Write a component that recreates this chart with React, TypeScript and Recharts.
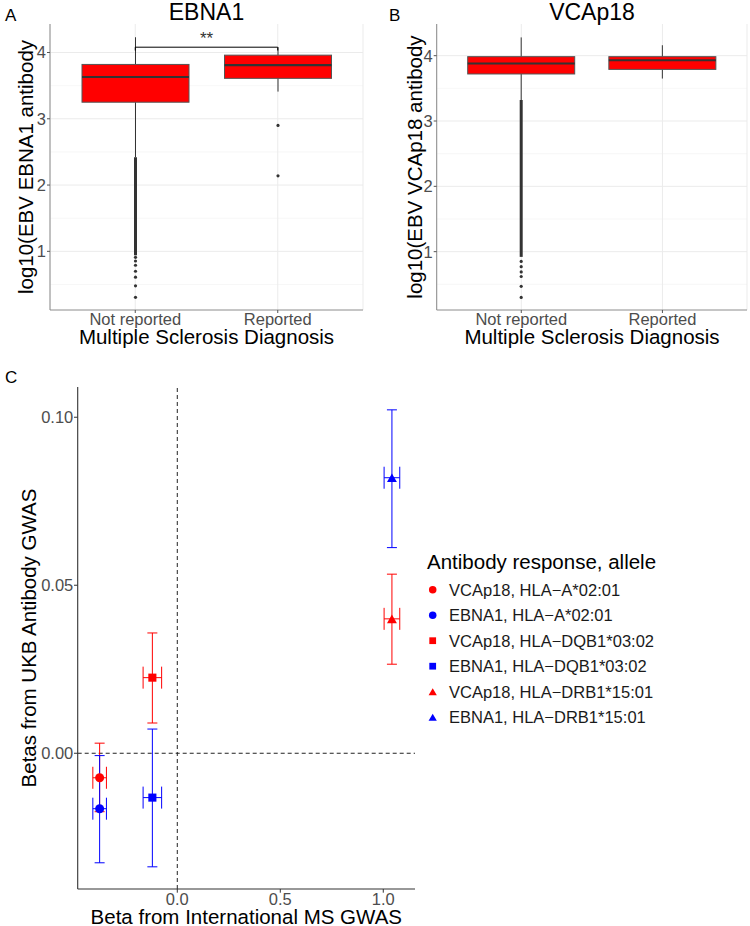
import React from 'react';
import {
  ComposedChart,
  ScatterChart,
  Scatter,
  Bar,
  XAxis,
  YAxis,
  CartesianGrid,
  ReferenceLine,
  ErrorBar,
  Legend,
} from 'recharts';

const FONT = '"Liberation Sans", Arial, Helvetica, sans-serif';
const BORDER = '#8c8c8c';
const TICK_COLOR = '#4D4D4D';

// ---------- Panels A & B: boxplots ----------
const categories = ['Not reported', 'Reported'];

// EBNA1
const ebnaLower = [2.42, 3.41];
const ebnaQ1 = [3.25, 3.61];
const ebnaMedian = [3.63, 3.81];
const ebnaQ3 = [3.82, 3.96];
const ebnaUpper = [4.23, 4.08];
const ebnaDenseLow = [0.94, null];
const ebnaDenseHigh = [2.42, null];
const ebnaOutliers = [
  [0.91, 0.854, 0.79, 0.7, 0.61, 0.48, 0.306],
  [2.9, 2.14],
];
const ebnaTicks = [1, 2, 3, 4];
const ebnaMinorTicks = [0.5, 1.5, 2.5, 3.5];
const ebnaDomain = [0.115, 4.43];
const ebnaBracket = 4.08;

// VCAp18
const vcaLower = [3.32, 3.65];
const vcaQ1 = [3.72, 3.79];
const vcaMedian = [3.88, 3.93];
const vcaQ3 = [3.985, 3.985];
const vcaUpper = [4.28, 4.16];
const vcaDenseLow = [0.92, null];
const vcaDenseHigh = [3.32, null];
const vcaOutliers = [[0.85, 0.77, 0.69, 0.62, 0.47, 0.3], []];
const vcaTicks = [1, 2, 3, 4];
const vcaMinorTicks = [0.5, 1.5, 2.5, 3.5];
const vcaDomain = [0.107, 4.485];

// ---------- Panel C: scatter with error bars ----------
const seriesNames = [
  'VCAp18, HLA\u2212A*02:01',
  'EBNA1, HLA\u2212A*02:01',
  'VCAp18, HLA\u2212DQB1*03:02',
  'EBNA1, HLA\u2212DQB1*03:02',
  'VCAp18, HLA\u2212DRB1*15:01',
  'EBNA1, HLA\u2212DRB1*15:01',
];
const seriesColors = ['#FF0000', '#0000FF', '#FF0000', '#0000FF', '#FF0000', '#0000FF'];
const seriesShapes = ['circle', 'circle', 'square', 'square', 'triangle', 'triangle'];
const msBeta = [-0.377, -0.377, -0.121, -0.121, 1.042, 1.042];
const msLow = [-0.41, -0.41, -0.166, -0.166, 1.004, 1.004];
const msHigh = [-0.344, -0.344, -0.076, -0.076, 1.08, 1.08];
const ukbBeta = [-0.0073, -0.0165, 0.0225, -0.0132, 0.04, 0.082];
const ukbLow = [-0.0174, -0.0326, 0.009, -0.0338, 0.0265, 0.0612];
const ukbHigh = [0.003, -0.0007, 0.0358, 0.0072, 0.0533, 0.1022];
const cXTicks = [0, 0.5, 1.0];
const cYTicks = [0, 0.05, 0.1];
const cXDomain = [-0.4835, 1.154];
const cYDomain = [-0.0404, 0.109];

const buildBoxRows = (
  lower: number[],
  q1: number[],
  median: number[],
  q3: number[],
  upper: number[],
  denseLow: (number | null)[],
  denseHigh: (number | null)[],
  outliers: number[][]
) =>
  categories.map((cat, i) => ({
    cat,
    lower: lower[i],
    q1: q1[i],
    median: median[i],
    q3: q3[i],
    upper: upper[i],
    denseLow: denseLow[i],
    denseHigh: denseHigh[i],
    outliers: outliers[i],
  }));

const ebnaRows = buildBoxRows(ebnaLower, ebnaQ1, ebnaMedian, ebnaQ3, ebnaUpper, ebnaDenseLow, ebnaDenseHigh, ebnaOutliers);
const vcaRows = buildBoxRows(vcaLower, vcaQ1, vcaMedian, vcaQ3, vcaUpper, vcaDenseLow, vcaDenseHigh, vcaOutliers);

const scatterSeries = seriesNames.map((name, i) => ({
  name,
  color: seriesColors[i],
  shape: seriesShapes[i],
  data: [
    {
      x: msBeta[i],
      y: ukbBeta[i],
      ex: [msBeta[i] - msLow[i], msHigh[i] - msBeta[i]],
      ey: [ukbBeta[i] - ukbLow[i], ukbHigh[i] - ukbBeta[i]],
    },
  ],
}));

const BoxShape = (props: any) => {
  const { x, y, width, height, payload } = props;
  if (x == null || y == null || !payload) return null;
  const top = Math.min(y, y + height);
  const h = Math.abs(height);
  const { q1, q3, median, lower, upper, denseLow, denseHigh, outliers } = payload;
  const pix = (v: number) => top + (h * (q3 - v)) / (q3 - q1);
  const cx = x + width / 2;
  return (
    <g>
      <line x1={cx} x2={cx} y1={pix(upper)} y2={pix(q3)} stroke="#333" strokeWidth={1} />
      <line x1={cx} x2={cx} y1={pix(q1)} y2={pix(lower)} stroke="#333" strokeWidth={1} />
      {denseLow != null && denseHigh != null && (
        <line x1={cx} x2={cx} y1={pix(denseHigh)} y2={pix(denseLow)} stroke="#333" strokeWidth={3} />
      )}
      {(outliers || []).map((o: number, i: number) => (
        <circle key={i} cx={cx} cy={pix(o)} r={1.6} fill="#333" />
      ))}
      <rect x={x} y={top} width={width} height={h} fill="#FF0000" stroke="#555" strokeWidth={1} />
      <line x1={x} x2={x + width} y1={pix(median)} y2={pix(median)} stroke="#333" strokeWidth={2.2} />
    </g>
  );
};

function BoxPanel(props: {
  rows: any[];
  domain: number[];
  ticks: number[];
  minor: number[];
  width: number;
  yWidth: number;
  right: number;
  bracket?: number;
}) {
  const { rows, domain, ticks, minor, width, yWidth, right, bracket } = props;
  return (
    <ComposedChart width={width} height={350} data={rows} margin={{ top: 24, right, bottom: 0, left: 0 }}>
      <CartesianGrid
        horizontalValues={minor}
        vertical={false}
        stroke="#F3F3F3"
        strokeWidth={0.7}
      />
      <CartesianGrid horizontalValues={ticks} stroke="#EBEBEB" strokeWidth={1} />
      <XAxis
        dataKey="cat"
        type="category"
        padding={{ left: 14, right: 14 }}
        height={40}
        tickSize={3}
        tickMargin={0}
        interval={0}
        tick={{ fill: TICK_COLOR, fontSize: 16.5, fontFamily: FONT }}
        axisLine={{ stroke: BORDER }}
        tickLine={{ stroke: '#555' }}
      />
      <XAxis
        xAxisId="top"
        orientation="top"
        dataKey="cat"
        height={0}
        tick={false}
        tickLine={false}
        axisLine={{ stroke: BORDER }}
      />
      <YAxis
        type="number"
        domain={domain}
        ticks={ticks}
        allowDataOverflow
        width={yWidth}
        tickSize={3}
        tickMargin={1}
        tick={{ fill: TICK_COLOR, fontSize: 16.5, fontFamily: FONT }}
        axisLine={{ stroke: BORDER }}
        tickLine={{ stroke: '#555' }}
      />
      <YAxis
        yAxisId="right"
        orientation="right"
        width={0}
        tick={false}
        tickLine={false}
        axisLine={{ stroke: BORDER }}
      />
      <Bar
        dataKey={(d: any) => [d.q1, d.q3]}
        barSize={107}
        fill="#FF0000"
        isAnimationActive={false}
        shape={(p: any) => <BoxShape {...p} />}
      />
      {bracket != null && (
        <ReferenceLine
          segment={[
            { x: categories[0], y: bracket },
            { x: categories[1], y: bracket },
          ]}
          stroke="#000"
          strokeWidth={1}
          ifOverflow="visible"
          label={{ value: '**', position: 'top', offset: 3, fill: '#333', fontSize: 17, fontFamily: FONT }}
        />
      )}
      {bracket != null &&
        categories.map((c) => (
          <ReferenceLine
            key={c}
            segment={[
              { x: c, y: bracket },
              { x: c, y: bracket - 0.05 },
            ]}
            stroke="#000"
            strokeWidth={1}
            ifOverflow="visible"
          />
        ))}
    </ComposedChart>
  );
}

const renderMarker = (shape: string, cx: number, cy: number, color: string, s: number) => {
  if (shape === 'circle') return <circle cx={cx} cy={cy} r={s / 2} fill={color} />;
  if (shape === 'square') return <rect x={cx - s * 0.45} y={cy - s * 0.45} width={s * 0.9} height={s * 0.9} fill={color} />;
  const side = s * 1.1;
  const h = side * 0.866;
  return (
    <polygon
      points={`${cx},${cy - h / 2} ${cx - side / 2},${cy + h / 2} ${cx + side / 2},${cy + h / 2}`}
      fill={color}
    />
  );
};

const LegendContent = () => (
  <svg width={320} height={200} style={{ overflow: 'visible' }}>
    <text x={7} y={29} fontSize={20.5} fontFamily={FONT} fill="#000">
      Antibody response, allele
    </text>
    {scatterSeries.map((s, i) => {
      const base = 55.5 + 25.5 * i;
      return (
        <g key={s.name}>
          {renderMarker(s.shape, 12.7, base - 5.8, s.color, 7.5)}
          <text x={29} y={base} fontSize={16.5} fontFamily={FONT} fill="#1a1a1a">
            {s.name}
          </text>
        </g>
      );
    })}
  </svg>
);

function ScatterPanel() {
  return (
    <ScatterChart width={750} height={566} margin={{ top: 27, right: 335, bottom: 0, left: 0 }}>
      <XAxis
        type="number"
        dataKey="x"
        domain={cXDomain}
        ticks={cXTicks}
        allowDataOverflow
        tickFormatter={(v: number) => v.toFixed(1)}
        height={37}
        tickSize={3.7}
        tickMargin={0.6}
        tick={{ fill: TICK_COLOR, fontSize: 16.5, fontFamily: FONT }}
        axisLine={{ stroke: '#333', strokeWidth: 1.1 }}
        tickLine={{ stroke: '#333' }}
      />
      <YAxis
        type="number"
        dataKey="y"
        domain={cYDomain}
        ticks={cYTicks}
        allowDataOverflow
        tickFormatter={(v: number) => v.toFixed(2)}
        width={77.7}
        tickSize={3.7}
        tickMargin={0.7}
        tick={{ fill: TICK_COLOR, fontSize: 16.5, fontFamily: FONT }}
        axisLine={{ stroke: '#333', strokeWidth: 1.1 }}
        tickLine={{ stroke: '#333' }}
      />
      <ReferenceLine x={0} stroke="#222" strokeDasharray="4 3" strokeWidth={1} />
      <ReferenceLine y={0} stroke="#222" strokeDasharray="4 3" strokeWidth={1} />
      {scatterSeries.map((s) => (
        <Scatter
          key={s.name}
          name={s.name}
          data={s.data}
          fill={s.color}
          isAnimationActive={false}
          shape={(p: any) =>
            p.cx == null ? <g /> : renderMarker(s.shape, p.cx, p.cy, s.color, 9)
          }
        >
          <ErrorBar dataKey="ey" direction="y" width={5} stroke={s.color} strokeWidth={1} />
          <ErrorBar dataKey="ex" direction="x" width={11} stroke={s.color} strokeWidth={1} />
        </Scatter>
      ))}
      <Legend
        layout="vertical"
        align="center"
        verticalAlign="middle"
        wrapperStyle={{ left: 420, top: 180, width: 320, height: 200 }}
        content={() => <LegendContent />}
      />
    </ScatterChart>
  );
}

const textStyle = { fontFamily: FONT };

export default function App() {
  return (
    <div
      style={{
        position: 'absolute',
        left: 0,
        top: 0,
        width: 750,
        height: 926,
        background: '#fff',
        overflow: 'hidden',
      }}
    >
      <div style={{ position: 'absolute', left: 0, top: 0 }}>
        <BoxPanel
          rows={ebnaRows}
          domain={ebnaDomain}
          ticks={ebnaTicks}
          minor={ebnaMinorTicks}
          width={370}
          yWidth={50}
          right={7}
          bracket={ebnaBracket}
        />
      </div>
      <div style={{ position: 'absolute', left: 370, top: 0 }}>
        <BoxPanel
          rows={vcaRows}
          domain={vcaDomain}
          ticks={vcaTicks}
          minor={vcaMinorTicks}
          width={380}
          yWidth={66.7}
          right={3}
        />
      </div>
      <div style={{ position: 'absolute', left: 0, top: 360 }}>
        <ScatterPanel />
      </div>
      <svg
        width={750}
        height={926}
        style={{ position: 'absolute', left: 0, top: 0, pointerEvents: 'none' }}
      >
        <g style={textStyle}>
          <text x={5} y={20.5} fontSize={17} fill="#000">A</text>
          <text x={206.5} y={20} fontSize={23} textAnchor="middle" fill="#000">EBNA1</text>
          <text x={389} y={20.5} fontSize={17} fill="#000">B</text>
          <text x={592} y={20} fontSize={23} textAnchor="middle" fill="#000">VCAp18</text>
          <text
            x={33.3}
            y={167}
            fontSize={20.5}
            textAnchor="middle"
            fill="#000"
            transform="rotate(-90, 33.3, 167)"
          >
            log10(EBV EBNA1 antibody
          </text>
          <text
            x={421.7}
            y={167}
            fontSize={20.5}
            textAnchor="middle"
            fill="#000"
            transform="rotate(-90, 421.7, 167)"
          >
            log10(EBV VCAp18 antibody
          </text>
          <text x={206.5} y={343.5} fontSize={20.5} textAnchor="middle" fill="#000">
            Multiple Sclerosis Diagnosis
          </text>
          <text x={592} y={343.5} fontSize={20.5} textAnchor="middle" fill="#000">
            Multiple Sclerosis Diagnosis
          </text>
          <text x={5} y={383} fontSize={17} fill="#000">C</text>
          <text
            x={36}
            y={638}
            fontSize={20.5}
            textAnchor="middle"
            fill="#000"
            transform="rotate(-90, 36, 638)"
          >
            Betas from UKB Antibody GWAS
          </text>
          <text x={246.3} y={923.5} fontSize={20.5} textAnchor="middle" fill="#000">
            Beta from International MS GWAS
          </text>
        </g>
      </svg>
    </div>
  );
}
